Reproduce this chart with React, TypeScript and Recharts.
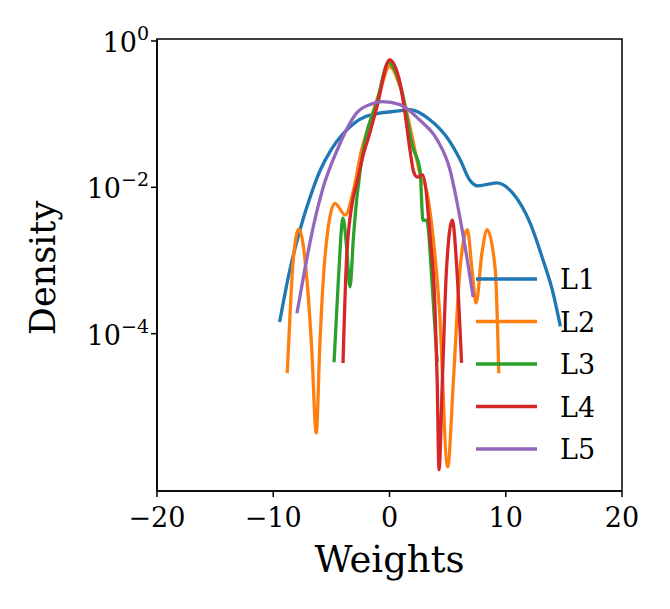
import React from "react"
import {
  LineChart,
  Line,
  XAxis,
  YAxis,
  ReferenceArea,
  Label
} from "recharts"

// weights (x) and log10(density)
const l1X = [-9.45, -8.6, -7.7, -6.8, -6.0, -5.0, -4.0, -3.0, -2.0, -1.0, 0.6, 1.8, 3.5, 4.9, 6.1, 6.9, 7.6, 8.4, 9.25, 10.6, 12.1, 13.2, 14.0, 14.7]
const l1Log = [-3.84, -3.15, -2.58, -2.12, -1.78, -1.48, -1.27, -1.12, -1.03, -0.99, -0.96, -0.94, -1.08, -1.31, -1.63, -1.9, -1.98, -1.96, -1.94, -2.08, -2.49, -2.99, -3.4, -3.9]

const l2X = [-8.8, -8.55, -8.3, -7.8, -7.1, -6.7, -6.3, -6.0, -5.7, -5.3, -4.7, -3.8, -3.1, -2.4, -1.9, -0.8, 0.0, 0.9, 2.0, 2.6, 3.2, 3.75, 4.3, 5.0, 5.5, 6.06, 6.7, 7.1, 7.45, 7.95, 8.4, 9.1, 9.4]
const l2Log = [-4.54, -3.72, -3.03, -2.57, -3.27, -4.18, -5.36, -4.18, -3.27, -2.58, -2.22, -2.38, -2.04, -1.49, -1.22, -0.67, -0.35, -0.62, -1.35, -1.8, -2.05, -2.68, -3.68, -5.82, -4.63, -3.13, -2.58, -3.13, -3.58, -2.9, -2.58, -3.13, -4.54]

const l3X = [-4.77, -4.4, -4.0, -3.7, -3.4, -3.1, -2.8, -2.1, -1.1, -0.1, 1.0, 2.0, 2.62, 2.88, 3.2, 3.7, 4.1]
const l3Log = [-4.39, -3.27, -2.42, -2.8, -3.36, -2.68, -2.13, -1.35, -0.85, -0.3, -0.65, -1.45, -1.76, -2.45, -2.45, -3.4, -4.39]

const l4X = [-4.0, -3.7, -3.2, -2.8, -2.3, -1.7, -1.08, 0.0, 0.9, 1.33, 1.76, 2.1, 2.4, 2.85, 3.5, 3.9, 4.1, 4.26, 4.55, 4.9, 5.4, 5.8, 6.2]
const l4Log = [-4.4, -3.0, -2.21, -1.94, -1.58, -1.26, -0.9, -0.26, -0.57, -0.98, -1.49, -1.8, -1.86, -1.83, -2.68, -3.58, -4.63, -5.86, -4.63, -3.13, -2.45, -3.13, -4.4]

const l5X = [-7.96, -7.4, -6.5, -5.7, -4.5, -2.8, -1.5, -0.6, 0.9, 2.6, 4.1, 5.2, 5.6, 6.1, 6.7, 7.2]
const l5Log = [-3.72, -3.22, -2.5, -2.0, -1.49, -0.98, -0.86, -0.83, -0.87, -1.08, -1.35, -1.76, -2.04, -2.45, -3.0, -3.5]

const seriesNames = ["L1", "L2", "L3", "L4", "L5"]
const seriesColors = ["#1f77b4", "#ff7f0e", "#2ca02c", "#d62728", "#9467bd"]
const xTicks = [-20, -10, 0, 10, 20]
const yTickExp = [0, -2, -4]

const Y_MIN = Math.pow(10, -6.15)
const Y_MAX = Math.pow(10, 0.027)
const FONT = "DejaVu Serif"
const LINE_W = 3.3

const toData = (xs: number[], logs: number[]) =>
  xs.map((x, i) => ({ x, y: Math.pow(10, logs[i]) }))

const series = [
  toData(l1X, l1Log),
  toData(l2X, l2Log),
  toData(l3X, l3Log),
  toData(l4X, l4Log),
  toData(l5X, l5Log)
]

const fmtNum = (v: number) => (v < 0 ? "\u2212" + Math.abs(v) : String(v))

function XTick(props: any) {
  const { x, y, payload } = props
  return (
    <text x={x} y={y + 30} textAnchor="middle" fontFamily={FONT} fontSize={27} fill="#000">
      {fmtNum(payload.value)}
    </text>
  )
}

function YTick(props: any) {
  const { x, y, payload } = props
  const exp = Math.round(Math.log10(payload.value))
  return (
    <text x={x - 2} y={y + 11} textAnchor="end" fontFamily={FONT} fontSize={27} fill="#000">
      <tspan>10</tspan>
      <tspan dy={-12} fontSize={19}>{fmtNum(exp)}</tspan>
    </text>
  )
}

function LegendBox() {
  return (
    <svg width={150} height={220} style={{ position: "absolute", left: 470, top: 258 }}>
      {seriesNames.map((name, i) => {
        const cy = 21 + i * 42.5
        return (
          <g key={name}>
            <line x1={6} x2={67} y1={cy} y2={cy} stroke={seriesColors[i]} strokeWidth={LINE_W} />
            <text x={90} y={cy + 10} fontFamily={FONT} fontSize={27} fill="#000">{name}</text>
          </g>
        )
      })}
    </svg>
  )
}

export default function App() {
  return (
    <div style={{ position: "absolute", left: 0, top: 0, width: 670, height: 609, background: "#fff" }}>
      <LineChart width={670} height={609} margin={{ top: 39, right: 48, bottom: 0, left: 0 }}>
        <XAxis
          type="number"
          dataKey="x"
          domain={[-20, 20]}
          ticks={xTicks}
          height={118}
          tickSize={6}
          tickMargin={0}
          tick={<XTick />}
          axisLine={{ stroke: "#000", strokeWidth: 1.5 }}
          tickLine={{ stroke: "#000", strokeWidth: 1.5 }}
          allowDataOverflow
        >
          <Label
            content={(p: any) => {
              const vb = p.viewBox
              return (
                <text x={vb.x + vb.width / 2} y={vb.y + 81} textAnchor="middle" fontFamily={FONT} fontSize={37} fill="#000">
                  Weights
                </text>
              )
            }}
          />
        </XAxis>
        <YAxis
          type="number"
          dataKey="y"
          scale="log"
          domain={[Y_MIN, Y_MAX]}
          ticks={yTickExp.map((e) => Math.pow(10, e))}
          width={157}
          tickSize={6}
          tickMargin={0}
          tick={<YTick />}
          axisLine={{ stroke: "#000", strokeWidth: 1.5 }}
          tickLine={{ stroke: "#000", strokeWidth: 1.5 }}
          allowDataOverflow
        >
          <Label
            content={(p: any) => {
              const vb = p.viewBox
              const cx = 55
              const cy = vb.y + vb.height / 2 + 3
              return (
                <text x={cx} y={cy} transform={`rotate(-90, ${cx}, ${cy})`} textAnchor="middle" fontFamily={FONT} fontSize={35} fill="#000">
                  Density
                </text>
              )
            }}
          />
        </YAxis>
        {series.map((d, i) => (
          <Line
            key={seriesNames[i]}
            data={d}
            dataKey="y"
            type="monotone"
            stroke={seriesColors[i]}
            strokeWidth={LINE_W}
            dot={false}
            activeDot={false}
            isAnimationActive={false}
          />
        ))}
        <ReferenceArea x1={-20} x2={20} y1={Y_MIN} y2={Y_MAX} fill="none" stroke="#000" strokeWidth={1.5} fillOpacity={0} />
      </LineChart>
      <LegendBox />
    </div>
  )
}
